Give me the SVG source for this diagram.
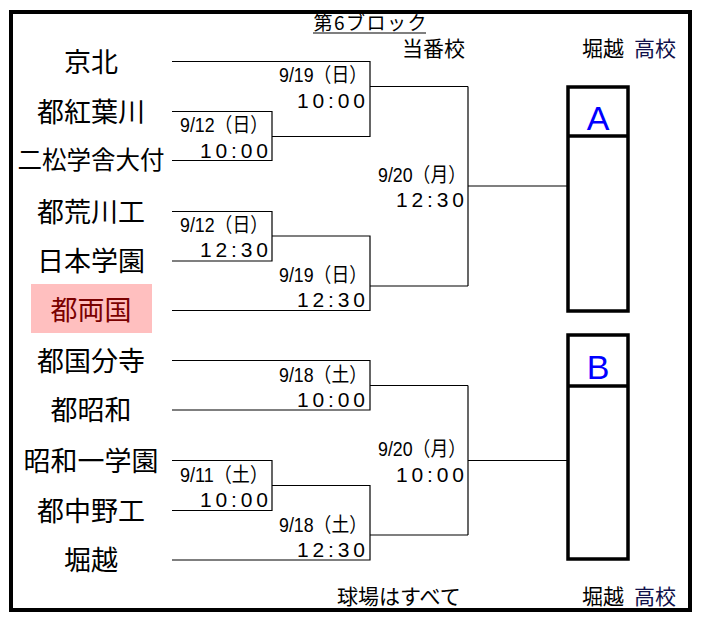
<svg xmlns="http://www.w3.org/2000/svg" width="704" height="622" viewBox="0 0 704 622">
<style>
.team{font-family:"Noto Sans CJK JP",sans-serif;font-size:27px;text-anchor:middle;fill:#000}
.hdr{font-family:"Noto Sans CJK JP",sans-serif;font-size:21px;fill:#000}
.date{font-family:"Liberation Sans","Noto Sans CJK JP",sans-serif;font-size:20px;fill:#000}
.time{font-family:"Liberation Sans",sans-serif;font-size:21px;fill:#000}
.conn{fill:none;stroke:#000;stroke-width:1.2}
.box{fill:#fff;stroke:#000;stroke-width:3.5}
.lbl{font-family:"Liberation Sans",sans-serif;font-size:34px;text-anchor:middle;fill:#0000ff}
</style>
<rect x="0" y="0" width="704" height="622" fill="#fff"/>
<rect x="11" y="12" width="679" height="598" fill="none" stroke="#000" stroke-width="4"/>

<g id="header">
<text x="370" y="30" font-family="Noto Sans CJK JP,sans-serif" font-size="19" text-anchor="middle" textLength="113">第6ブロック</text>
<line x1="313" y1="33" x2="426" y2="33" stroke="#000" stroke-width="1.2"/>
<text class="hdr" x="402" y="56">当番校</text>
<text class="hdr" x="582" y="56">堀越 <tspan x="634" fill="#10104a">高校</tspan></text>
<text class="hdr" x="337" y="604">球場はすべて</text>
<text class="hdr" x="582" y="604">堀越 <tspan x="634" fill="#10104a">高校</tspan></text>
</g>

<g id="connectors" class="conn">
<path d="M172,61.5H370V136.5H272"/>
<path d="M172,111.5H272V160.5H172"/>
<path d="M370,86.5H468"/>
<path d="M172,211.5H272V261H172"/>
<path d="M272,236H370V310.5H172"/>
<path d="M370,286H468"/>
<path d="M468,86.5V286"/>
<path d="M468,186H568"/>
<path d="M172,360.5H370V410H172"/>
<path d="M370,385.5H468"/>
<path d="M172,460.5H272V510.5H172"/>
<path d="M272,485.5H370V560H172"/>
<path d="M370,535H468"/>
<path d="M468,385.5V535"/>
<path d="M468,460.5H568"/>
</g>

<g id="t1"><text class="team" x="91" y="72">京北</text></g>
<g id="t2"><text class="team" x="91" y="121.5">都紅葉川</text></g>
<g id="t3"><text class="team" x="91" y="169" style="font-size:24.5px">二松学舎大付</text></g>
<g id="t4"><text class="team" x="91" y="221.5">都荒川工</text></g>
<g id="t5"><text class="team" x="91" y="271">日本学園</text></g>
<g id="t6"><rect x="31" y="284" width="121" height="49" fill="#ffbfbf"/><text class="team" x="91" y="320" style="fill:#7a0000">都両国</text></g>
<g id="t7"><text class="team" x="91" y="370.5">都国分寺</text></g>
<g id="t8"><text class="team" x="91" y="420">都昭和</text></g>
<g id="t9"><text class="team" x="91" y="470.5">昭和一学園</text></g>
<g id="t10"><text class="team" x="91" y="520.5">都中野工</text></g>
<g id="t11"><text class="team" x="91" y="570">堀越</text></g>

<g id="m1"><text class="date" x="279" y="82" textLength="88" lengthAdjust="spacingAndGlyphs">9/19（日）</text><text class="time" x="297" y="108" textLength="68">10:00</text></g>
<g id="m2"><text class="date" x="180" y="132" textLength="88" lengthAdjust="spacingAndGlyphs">9/12（日）</text><text class="time" x="200" y="158" textLength="68">10:00</text></g>
<g id="m3"><text class="date" x="180" y="232" textLength="88" lengthAdjust="spacingAndGlyphs">9/12（日）</text><text class="time" x="200" y="257" textLength="68">12:30</text></g>
<g id="m4"><text class="date" x="279" y="282" textLength="88" lengthAdjust="spacingAndGlyphs">9/19（日）</text><text class="time" x="297" y="307" textLength="68">12:30</text></g>
<g id="m5"><text class="date" x="378" y="182" textLength="88" lengthAdjust="spacingAndGlyphs">9/20（月）</text><text class="time" x="396" y="207" textLength="68">12:30</text></g>
<g id="m6"><text class="date" x="279" y="382" textLength="88" lengthAdjust="spacingAndGlyphs">9/18（土）</text><text class="time" x="297" y="407" textLength="68">10:00</text></g>
<g id="m7"><text class="date" x="378" y="456" textLength="88" lengthAdjust="spacingAndGlyphs">9/20（月）</text><text class="time" x="396" y="482" textLength="68">10:00</text></g>
<g id="m8"><text class="date" x="180" y="482" textLength="88" lengthAdjust="spacingAndGlyphs">9/11（土）</text><text class="time" x="200" y="507" textLength="68">10:00</text></g>
<g id="m9"><text class="date" x="279" y="532" textLength="88" lengthAdjust="spacingAndGlyphs">9/18（土）</text><text class="time" x="297" y="557" textLength="68">12:30</text></g>

<g id="boxA">
<rect class="box" x="568" y="87" width="60" height="224"/>
<line x1="568" y1="136" x2="628" y2="136" stroke="#000" stroke-width="3.5"/>
<text class="lbl" x="598" y="130">A</text>
</g>
<g id="boxB">
<rect class="box" x="568" y="335" width="60" height="224"/>
<line x1="568" y1="386" x2="628" y2="386" stroke="#000" stroke-width="3.5"/>
<text class="lbl" x="598" y="379">B</text>
</g>
</svg>
